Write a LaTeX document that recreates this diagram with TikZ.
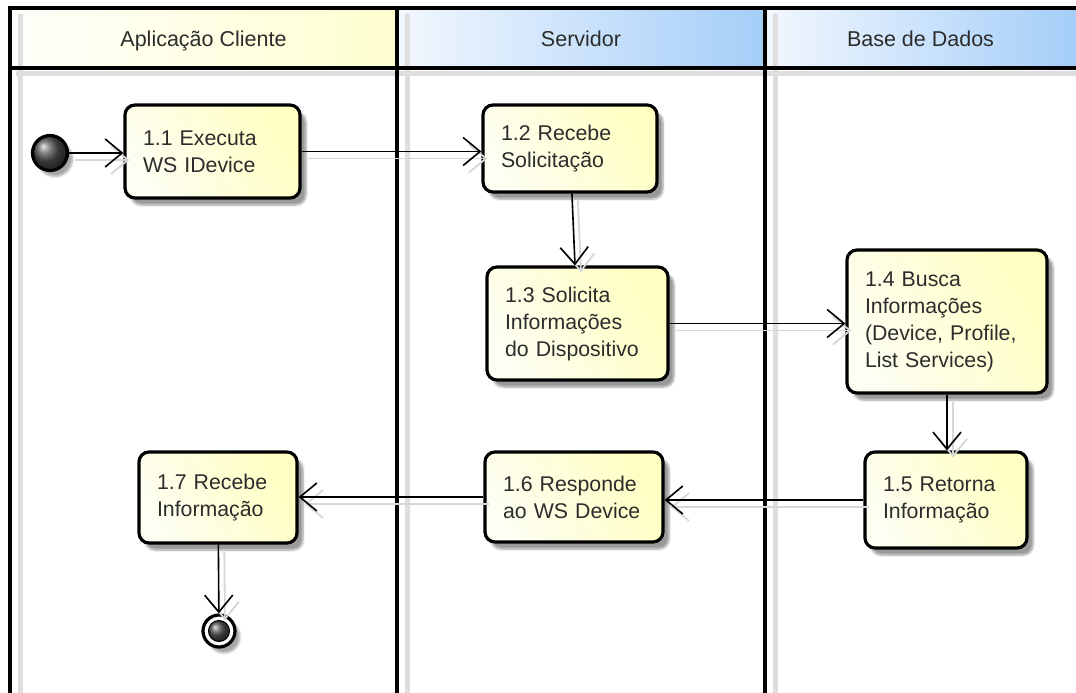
\documentclass[tikz,border=0pt]{standalone}
\usepackage{fontspec}
\setmainfont{Liberation Sans}
\usetikzlibrary{arrows.meta,shadows.blur}

\definecolor{txt}{HTML}{2C2C2C}
\definecolor{boxA}{HTML}{FEFEF2}
\definecolor{boxB}{HTML}{FFFFC2}
\definecolor{hdYa}{HTML}{FFFFFB}
\definecolor{hdYb}{HTML}{FFFFD0}
\definecolor{hdBa}{HTML}{F2F7FE}
\definecolor{hdBb}{HTML}{A4CEF8}
\definecolor{lineshade}{HTML}{D6D6D6}
\definecolor{dotgray}{HTML}{505050}

\begin{document}
\begin{tikzpicture}[x=1pt,y=-1pt,
  every node/.style={text=txt, font=\fontsize{21.3}{27}\selectfont},
  action/.style={draw=black, line width=3.2pt, rounded corners=10pt,
    left color=boxA, right color=boxB, shading angle=120,
    inner xsep=18pt, inner ysep=0pt, align=left,
    execute at begin node={\hyphenpenalty=10000 },
    blur shadow={shadow xshift=6pt, shadow yshift=-7pt,
                 shadow blur steps=6, shadow opacity=40}},
  flow/.style={draw=black, line width=1.6pt,
    -{Straight Barb[length=17pt,width=28pt,line width=1.6pt]}},
  flowshade/.style={draw=lineshade, line width=1.8pt,
    -{Straight Barb[length=17pt,width=28pt,line width=1.8pt]},
    transform canvas={shift={(6pt,-7pt)}}},
  lane/.style={draw=black, line width=3.6pt},
  laneshade/.style={draw=black!13, line width=5pt},
  headtext/.style={anchor=base, font=\fontsize{21.5}{26}\selectfont},
]
\useasboundingbox (0,0) rectangle (1076,693);
\begin{scope}
\clip (0,0) rectangle (1076,693);

% lane headers
\shade[left color=hdYa, right color=hdYb] (10,8) rectangle (397,68);
\shade[left color=hdBa, right color=hdBb] (397,8) rectangle (765,68);
\shade[left color=hdBa, right color=hdBb] (765,8) rectangle (1076,68);

% soft shadows of the lane lines
\draw[laneshade] (20,14) -- (20,693);
\draw[laneshade] (407,14) -- (407,693);
\draw[laneshade] (775,14) -- (775,693);
\draw[laneshade] (16,74) -- (1076,74);

% lane lines
\draw[lane] (10,8) -- (1076,8);
\draw[lane] (10,68) -- (1076,68);
\draw[lane] (10,6.2) -- (10,693);
\draw[lane] (397,6.2) -- (397,693);
\draw[lane] (765,6.2) -- (765,693);

% lane titles
\node[headtext] (h1) at (203.5,47) {Aplicação Cliente};
\node[headtext] (h2) at (581,47) {Servidor};
\node[headtext] (h3) at (920.5,47) {Base de Dados};

% start and end points
\node[circle, draw=black, line width=3.2pt, minimum size=35pt, inner sep=0pt,
      ball color=dotgray,
      blur shadow={shadow xshift=5pt, shadow yshift=-6pt, shadow blur steps=5, shadow opacity=35}]
      (start) at (50,153) {};
\node[circle, draw=black, line width=3.2pt, minimum size=32pt, inner sep=0pt, fill=white,
      blur shadow={shadow xshift=5pt, shadow yshift=-6pt, shadow blur steps=5, shadow opacity=35}]
      (stop) at (219,631) {};
\node[circle, draw=black, line width=1pt, minimum size=21pt, inner sep=0pt,
      ball color=dotgray] (stopdot) at (stop) {};

% actions (width = text width + 36)
\node[action, text width=139pt, minimum height=93pt] (a1) at (212.5,151.5)
  {1.1 Executa\\WS IDevice};
\node[action, text width=138pt, minimum height=87pt] (a2) at (570,148.5)
  {1.2 Recebe\\Solicitação};
\node[action, text width=145pt, minimum height=113pt] (a3) at (577.5,323.5)
  {1.3 Solicita\\Informações\\do Dispositivo};
\node[action, text width=164pt, minimum height=143pt] (a4) at (947,321.5)
  {1.4 Busca\\Informações\\(Device, Profile,\\List Services)};
\node[action, text width=126pt, minimum height=96pt] (a5) at (946,500)
  {1.5 Retorna\\Informação};
\node[action, text width=142pt, minimum height=90pt] (a6) at (574,497)
  {1.6 Responde\\ao WS Device};
\node[action, text width=122pt, minimum height=91pt] (a7) at (218,497.5)
  {1.7 Recebe\\Informação};

% connector shadows
\draw[flowshade] (start.east) -- (start.east -| a1.west);
\draw[flowshade] (a1.east) -- (a1.east -| a2.west);
\draw[flowshade] (a2) -- (a3);
\draw[flowshade] (a3.east) -- (a3.east -| a4.west);
\draw[flowshade] (a4.south) -- (a4.south |- a5.north);
\draw[flowshade] (a5.west) -- (a5.west -| a6.east);
\draw[flowshade] (a6.west) -- (a6.west -| a7.east);
\draw[flowshade] (a7) -- (stop);

% connectors
\draw[flow] (start.east) -- (start.east -| a1.west);
\draw[flow] (a1.east) -- (a1.east -| a2.west);
\draw[flow] (a2) -- (a3);
\draw[flow] (a3.east) -- (a3.east -| a4.west);
\draw[flow] (a4.south) -- (a4.south |- a5.north);
\draw[flow] (a5.west) -- (a5.west -| a6.east);
\draw[flow] (a6.west) -- (a6.west -| a7.east);
\draw[flow] (a7) -- (stop);
\end{scope}
\end{tikzpicture}
\end{document}
